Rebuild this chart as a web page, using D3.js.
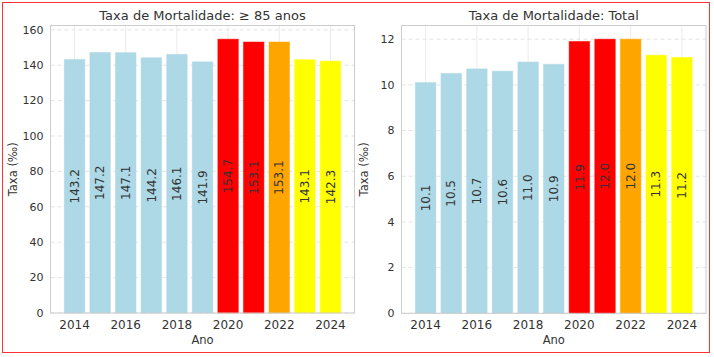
<!DOCTYPE html>
<html><head><meta charset="utf-8">
<script src="https://cdn.jsdelivr.net/npm/d3@7"></script>
<style>body{margin:0;background:#fff;} text{font-family:"DejaVu Sans",sans-serif;}</style>
</head><body>
<svg id="c" width="714" height="357"></svg>
<script>
const years = [2014,2015,2016,2017,2018,2019,2020,2021,2022,2023,2024];
const rate85 = [143.2,147.2,147.1,144.2,146.1,141.9,154.7,153.1,153.1,143.1,142.3];
const rateTotal = [10.1,10.5,10.7,10.6,11.0,10.9,11.9,12.0,12.0,11.3,11.2];
const barColors = ["#add8e6","#add8e6","#add8e6","#add8e6","#add8e6","#add8e6","#ff0000","#ff0000","#ffa500","#ffff00","#ffff00"];
const xTicks = [2014,2016,2018,2020,2022,2024];
const yTicks85 = [0,20,40,60,80,100,120,140,160];
const yTicksTotal = [0,2,4,6,8,10,12];
const titles = ["Taxa de Mortalidade: \u2265 85 anos","Taxa de Mortalidade: Total"];

const svg = d3.select("#c");
svg.append("rect").attr("x",2.5).attr("y",2.5).attr("width",707).attr("height",350)
  .attr("fill","none").attr("stroke","#ff3333").attr("stroke-width",1);

function panel(vals, yTicks, box, title){
  const [x0,x1,y0,y1] = box;
  const maxV = d3.max(vals)*1.05;
  const x = d3.scaleLinear().domain([2013.06,2024.94]).range([x0,x1]);
  const y = d3.scaleLinear().domain([0,maxV]).range([y1,y0]);
  const g = svg.append("g");
  // grid
  g.selectAll(".hg").data(yTicks).join("line")
    .attr("x1",x0).attr("x2",x1).attr("y1",d=>y(d)).attr("y2",d=>y(d))
    .attr("stroke","#dddddd").attr("stroke-dasharray","4,3").attr("stroke-width",0.8);
  g.selectAll(".vg").data(xTicks).join("line")
    .attr("x1",d=>x(d)).attr("x2",d=>x(d)).attr("y1",y0).attr("y2",y1)
    .attr("stroke","#e6e6e6").attr("stroke-width",0.8);
  const bw = x(0.8)-x(0);
  g.selectAll(".bar").data(vals).join("rect")
    .attr("x",(d,i)=>x(years[i]-0.4)).attr("width",bw)
    .attr("y",d=>y(d)).attr("height",d=>y(0)-y(d))
    .attr("fill",(d,i)=>barColors[i]).attr("stroke",(d,i)=>barColors[i]).attr("stroke-opacity",0.5).attr("stroke-width",1);
  g.selectAll(".lab").data(vals).join("text")
    .attr("transform",(d,i)=>`translate(${x(years[i])},${y(d/2)}) rotate(-90)`)
    .attr("text-anchor","middle").attr("dy","0.35em")
    .attr("font-size",12).attr("fill","#333")
    .text(d=>d.toFixed(1));
  // frame
  g.append("rect").attr("x",x0).attr("y",y0).attr("width",x1-x0).attr("height",y1-y0)
    .attr("fill","none").attr("stroke","#cccccc").attr("stroke-width",1);
  // ticks
  g.selectAll(".yt").data(yTicks).join("text")
    .attr("x",x0-7).attr("y",d=>y(d)).attr("dy","0.35em").attr("text-anchor","end")
    .attr("font-size",11).attr("fill","#333").text(d=>d);
  g.selectAll(".xt").data(xTicks).join("text")
    .attr("x",d=>x(d)).attr("y",y1+16).attr("text-anchor","middle")
    .attr("font-size",12).attr("fill","#333").text(d=>d);
  g.append("text").attr("x",(x0+x1)/2).attr("y",y1+31).attr("text-anchor","middle")
    .attr("font-size",11.5).attr("fill","#333").text("Ano");
  g.append("text").attr("transform",`translate(${x0-34},${(y0+y1)/2}) rotate(-90)`)
    .attr("text-anchor","middle").attr("font-size",11.5).attr("fill","#333").text("Taxa (\u2030)");
  g.append("text").attr("x",(x0+x1)/2).attr("y",y0-6).attr("text-anchor","middle")
    .attr("font-size",13).attr("fill","#333").text(title);
}
panel(rate85, yTicks85, [50.5,354.5,25.5,313], titles[0]);
panel(rateTotal, yTicksTotal, [401.5,706,25.5,313.3], titles[1]);
</script>
</body></html>
